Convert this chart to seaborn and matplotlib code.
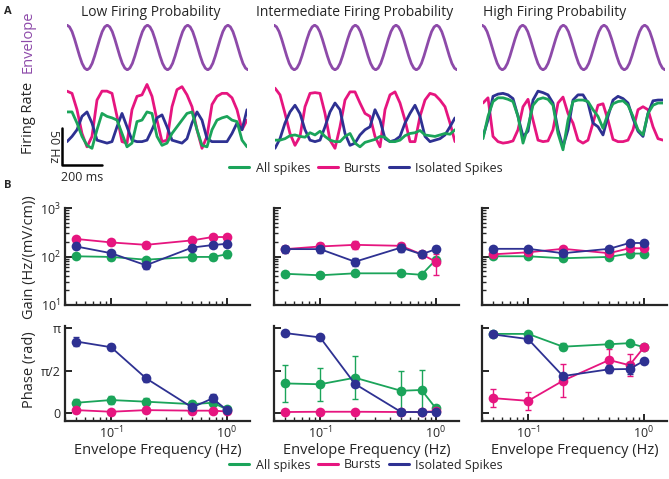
import numpy as np
import pandas as pd
import matplotlib
matplotlib.use("Agg")
import matplotlib.pyplot as plt
import seaborn as sns
from matplotlib.lines import Line2D

sns.set_theme(style="ticks")
plt.rcParams['font.family'] = ['Open Sans', 'DejaVu Sans']

GREEN = "#1ba45a"
PINK = "#e6157f"
BLUE = "#2e3192"
PURPLE = "#8d4aa9"

conditions = ["Low Firing Probability", "Intermediate Firing Probability", "High Firing Probability"]
series_names = ["All spikes", "Bursts", "Isolated Spikes"]
freqs = [0.05, 0.1, 0.2, 0.5, 0.75, 1.0]

# gain (Hz/(mV/cm)), one row per condition (low, intermediate, high)
gain_all = [[101, 98, 86, 98, 98, 111], [44, 41, 45, 45, 42, 86], [101, 101, 92, 98, 115, 115]]
gain_burst = [[230, 195, 174, 215, 252, 252], [142, 161, 174, 166, 111, 78], [111, 122, 144, 117, 148, 148]]
gain_iso = [[161, 117, 66, 153, 172, 183], [142, 142, 78, 153, 111, 142], [144, 144, 117, 144, 190, 190]]
gain_all_err = [[10, 12, 8, 12, 14, 18], [4, 4, 4, 4, 4, 12], [8, 8, 8, 8, 10, 10]]
gain_burst_err = [[20, 20, 25, 20, 25, 25], [20, 25, 30, 20, 20, 37], [10, 10, 12, 10, 12, 12]]
gain_iso_err = [[15, 12, 10, 20, 15, 15], [25, 25, 15, 30, 15, 20], [10, 10, 10, 10, 12, 12]]

# phase (rad)
phase_all = [[0.39, 0.49, 0.43, 0.34, 0.39, 0.15], [1.10, 1.07, 1.31, 0.83, 0.86, 0.18], [2.92, 2.92, 2.45, 2.54, 2.58, 2.43]]
phase_burst = [[0.12, 0.06, 0.12, 0.10, 0.10, 0.07], [0.05, 0.06, 0.06, 0.05, 0.05, 0.08], [0.56, 0.46, 1.20, 1.96, 1.77, 2.43]]
phase_iso = [[2.64, 2.43, 1.29, 0.22, 0.55, 0.12], [2.95, 2.79, 1.08, 0.05, 0.05, 0.05], [2.90, 2.73, 1.37, 1.62, 1.63, 1.93]]
phase_all_err = [[0.12, 0.14, 0.12, 0.10, 0.12, 0.06], [0.68, 0.60, 0.78, 0.72, 0.74, 0.10], [0.05, 0.05, 0.12, 0.06, 0.06, 0.05]]
phase_burst_err = [[0.05, 0.05, 0.05, 0.05, 0.05, 0.05], [0.04, 0.04, 0.04, 0.04, 0.04, 0.04], [0.33, 0.33, 0.60, 0.40, 0.40, 0.06]]
phase_iso_err = [[0.15, 0.12, 0.12, 0.08, 0.15, 0.06], [0.04, 0.04, 0.04, 0.04, 0.04, 0.04], [0.05, 0.06, 0.08, 0.15, 0.20, 0.05]]

# example firing rate traces (Hz), sampled every 25 ms
rate_all = [
    [58, 58, 43, 25, 13, 9, 34, 56, 52, 50, 47, 29, 11, 16, 45, 47, 58, 56, 25, 13, 16, 29, 38, 47, 56, 58, 34, 13, 11, 34, 47, 50, 52, 47, 45, 20, 11],
    [20, 20, 22, 26, 27, 25, 24, 30, 27, 32, 25, 20, 18, 18, 25, 29, 16, 11, 17, 19, 21, 25, 24, 18, 18, 20, 26, 29, 30, 33, 27, 26, 25, 27, 29, 28, 34],
    [22, 52, 72, 77, 77, 75, 72, 52, 16, 38, 67, 75, 77, 75, 67, 29, 7, 47, 72, 74, 74, 72, 61, 52, 36, 56, 69, 72, 73, 67, 52, 34, 27, 56, 67, 70, 70],
]
rate_burst = [
    [86, 83, 61, 29, 11, 25, 74, 86, 86, 83, 52, 18, 16, 61, 79, 81, 95, 79, 47, 18, 20, 65, 88, 92, 81, 65, 34, 9, 25, 68, 79, 83, 83, 77, 61, 34, 47],
    [90, 81, 56, 29, 13, 25, 65, 83, 84, 83, 56, 20, 9, 38, 74, 85, 85, 70, 56, 52, 25, 11, 61, 81, 85, 70, 47, 18, 18, 52, 74, 83, 81, 74, 65, 43, 18],
    [70, 77, 25, 18, 16, 17, 19, 34, 65, 75, 47, 20, 18, 19, 34, 70, 78, 56, 43, 20, 16, 20, 43, 67, 69, 47, 21, 18, 18, 20, 34, 61, 65, 61, 38, 22, 20],
]
rate_iso = [
    [18, 25, 34, 52, 58, 43, 20, 18, 16, 18, 38, 56, 38, 20, 18, 18, 20, 34, 50, 54, 38, 20, 18, 16, 22, 43, 58, 47, 22, 18, 18, 18, 18, 29, 43, 34, 61],
    [9, 22, 43, 58, 67, 56, 34, 20, 18, 20, 38, 58, 70, 61, 29, 13, 16, 27, 34, 38, 61, 47, 22, 18, 20, 25, 43, 56, 67, 52, 25, 18, 20, 22, 27, 38, 50],
    [25, 47, 79, 82, 83, 81, 76, 52, 25, 32, 74, 86, 84, 81, 70, 34, 11, 34, 74, 81, 81, 70, 43, 38, 27, 52, 74, 79, 76, 70, 49, 32, 25, 56, 73, 74, 74],
]
t_ms = np.arange(37) * 25

# one cycle of the stimulus envelope (200 ms period), starting at the peak
env_cycle = [1.0, 0.92, 0.71, 0.38, 0.0, -0.38, -0.71, -0.92, -1.0, -0.92, -0.71, -0.38, 0.0, 0.38, 0.71, 0.92]
env = np.tile(env_cycle, 5)[:73]
t_env = np.arange(73) * 12.5

W, H = 669, 479
fig = plt.figure(figsize=(W / 100, H / 100), dpi=100)


def px_axes(x0, y0, x1, y1):
    return fig.add_axes([x0 / W, 1 - y1 / H, (x1 - x0) / W, (y1 - y0) / H])


colors = [GREEN, PINK, BLUE]
env_x = [(67, 248), (274, 457), (482, 665)]
trace_x = [(67, 247), (275, 455), (483, 663)]
title_x = [151, 355, 555]

# ---- A: envelope and firing rate traces
for i in range(3):
    fig.text(title_x[i] / W, 1 - 13 / H, conditions[i], ha="center", va="center", fontsize=10)

    ax = px_axes(env_x[i][0], 24, env_x[i][1], 71)
    sns.lineplot(x=t_env, y=env, color=PURPLE, lw=2, ax=ax)
    ax.set_ylim(-1.05, 1.05)
    ax.set_xlim(0, 900)
    ax.axis("off")

    ax = px_axes(trace_x[i][0], 80, trace_x[i][1], 155)
    df = pd.DataFrame({"t": np.concatenate([t_ms] * 3),
                       "rate": np.concatenate([rate_burst[i], rate_iso[i], rate_all[i]]),
                       "kind": ["Bursts"] * 37 + ["Isolated Spikes"] * 37 + ["All spikes"] * 37})
    sns.lineplot(data=df, x="t", y="rate", hue="kind",
                 palette={"All spikes": GREEN, "Bursts": PINK, "Isolated Spikes": BLUE},
                 lw=2, legend=False, ax=ax)
    ax.set_xlim(0, 900)
    ax.set_ylim(0, 101)
    ax.axis("off")
    if i == 0:
        # scale bar: 50 Hz / 200 ms
        ax.plot([-25, -25, 175], [36.5, -13.5, -13.5], color="black", lw=1.8, clip_on=False)
        ax.text(-70, 11.5, "50 Hz", rotation=270, ha="center", va="center", fontsize=9)
        ax.text(75, -30, "200 ms", ha="center", va="center", fontsize=9)

fig.text(28 / W, 1 - 42 / H, "Envelope", rotation=90, ha="center", va="center", fontsize=10.5, color=PURPLE)
fig.text(28 / W, 1 - 118 / H, "Firing Rate", rotation=90, ha="center", va="center", fontsize=10.5)
fig.text(8 / W, 1 - 12 / H, "A", fontsize=8, fontweight="bold", ha="center", va="center")
fig.text(8 / W, 1 - 186 / H, "B", fontsize=8, fontweight="bold", ha="center", va="center")

handles = [Line2D([], [], color=c, lw=2.2) for c in colors]
fig.legend(handles, series_names, loc="center", bbox_to_anchor=(366 / W, 1 - 168 / H), ncol=3,
           frameon=False, handlelength=1.6, columnspacing=0.6, handletextpad=0.5, fontsize=9)

# ---- B: gain and phase
panel_x = [(65, 250), (274, 459), (482, 667)]
gains = [gain_all, gain_burst, gain_iso]
gain_errs = [gain_all_err, gain_burst_err, gain_iso_err]
phases = [phase_all, phase_burst, phase_iso]
phase_errs = [phase_all_err, phase_burst_err, phase_iso_err]


def style_axis(ax):
    sns.despine(ax=ax)
    for s in ["left", "bottom"]:
        ax.spines[s].set_linewidth(1.6)
    ax.tick_params(which="major", direction="in", length=5, width=1.4, labelsize=9, pad=3)
    ax.tick_params(which="minor", direction="in", length=3, width=1.0)
    ax.set_xscale("log")
    ax.set_xlim(0.04, 1.58)
    ax.set_xlabel("")
    ax.set_ylabel("")


for i in range(3):
    ax_g = px_axes(panel_x[i][0], 208, panel_x[i][1], 305)
    ax_p = px_axes(panel_x[i][0], 326, panel_x[i][1], 421)
    for k in range(3):
        sns.lineplot(x=freqs, y=gains[k][i], color=colors[k], marker="o", markersize=7,
                     markeredgewidth=0, lw=1.3, ax=ax_g)
        ax_g.errorbar(freqs, gains[k][i], yerr=gain_errs[k][i], fmt="none", ecolor=colors[k],
                      elinewidth=1, capsize=2)
        sns.lineplot(x=freqs, y=phases[k][i], color=colors[k], marker="o", markersize=7,
                     markeredgewidth=0, lw=1.3, ax=ax_p)
        ax_p.errorbar(freqs, phases[k][i], yerr=phase_errs[k][i], fmt="none", ecolor=colors[k],
                      elinewidth=1, capsize=2)
    style_axis(ax_g)
    style_axis(ax_p)
    ax_g.set_yscale("log")
    ax_g.set_ylim(10, 1000)
    ax_g.tick_params(which="minor", direction="in", length=3, width=1.0)
    ax_g.set_xticklabels([])
    ax_g.xaxis.set_minor_formatter(plt.NullFormatter())
    ax_p.set_ylim(-0.28, 3.21)
    ax_p.set_yticks([0, np.pi / 2, np.pi])
    ax_p.set_yticklabels(["0", "π/2", "π"])
    ax_p.set_xlabel("Envelope Frequency (Hz)", fontsize=10.5, labelpad=1)
    if i > 0:
        ax_g.set_yticklabels([])
        ax_g.yaxis.set_minor_formatter(plt.NullFormatter())
        ax_p.set_yticklabels([])

fig.text(30 / W, 1 - 257 / H, "Gain (Hz/(mV/cm))", rotation=90, ha="center", va="center", fontsize=10.5)
fig.text(30 / W, 1 - 370 / H, "Phase (rad)", rotation=90, ha="center", va="center", fontsize=10.5)

fig.legend(handles, series_names, loc="center", bbox_to_anchor=(366 / W, 1 - 465 / H), ncol=3,
           frameon=False, handlelength=1.6, columnspacing=0.6, handletextpad=0.5, fontsize=9)

fig.savefig("out.png", dpi=100)
